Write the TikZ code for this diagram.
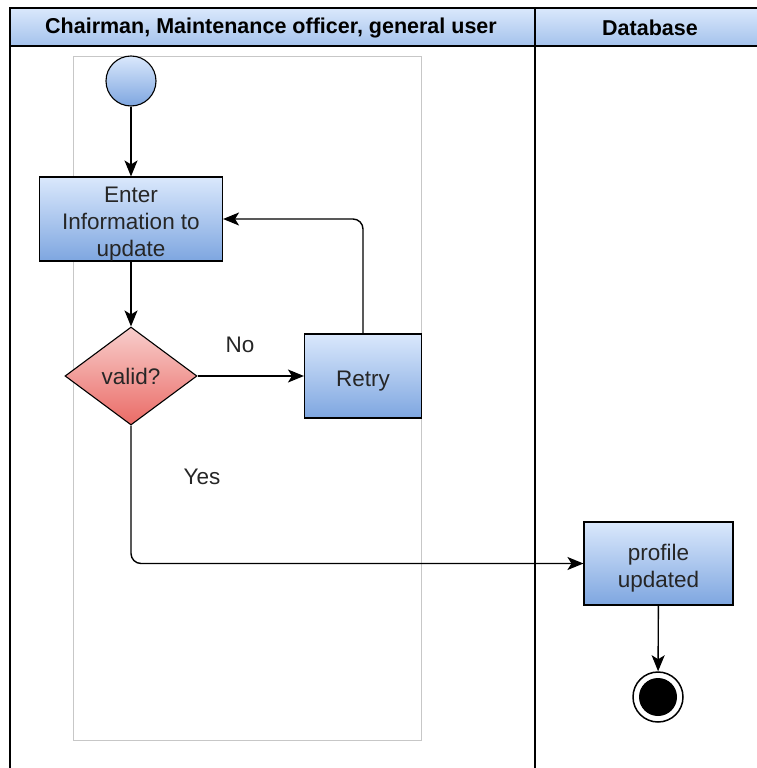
\documentclass[tikz,border=0pt]{standalone}
\usepackage{fontspec}
\setmainfont{Liberation Sans}
\usetikzlibrary{shapes.geometric,arrows.meta}
\definecolor{bluetop}{HTML}{DAE8FC}
\definecolor{bluebot}{HTML}{7EA6E0}
\definecolor{redtop}{HTML}{F8CECC}
\definecolor{redbot}{HTML}{EA6B66}
\definecolor{headtop}{HTML}{DAE8FC}
\definecolor{headbot}{HTML}{A4C2EC}
\begin{document}
\begin{tikzpicture}[x=1pt,y=-1pt,
  lane/.style={line width=1.3pt,draw=black},
  actbox/.style={rectangle,draw=black,line width=1.1pt,top color=bluetop,bottom color=bluebot,
    inner sep=0pt,align=center,text=black!85,text depth=0pt,font=\fontsize{22.5}{27}\selectfont},
  decision/.style={diamond,draw=black,line width=1.1pt,top color=redtop,bottom color=redbot,
    inner sep=0pt,minimum width=132pt,minimum height=98pt,text=black!85,font=\fontsize{22.5}{27}\selectfont},
  flow/.style={line width=1.4pt,-{Stealth[length=16pt,width=13pt,inset=4pt]},rounded corners=10pt},
  lbl/.style={font=\fontsize{22.5}{27}\selectfont,inner sep=0pt,text=black!85}]
\useasboundingbox (0,0) rectangle (756,768);
% swimlane header
\shade[top color=headtop,bottom color=headbot] (10,8) rectangle (760,46);
\draw[lane] (760,8) -- (10,8) -- (10,770);
\draw[lane] (10,46) -- (760,46);
\draw[lane] (535,8) -- (535,770);
\node[font=\bfseries\fontsize{21.5}{26}\selectfont] (h1) at (271,28) {Chairman, Maintenance officer, general user};
\node[font=\bfseries\fontsize{21.5}{26}\selectfont] (h2) at (650,28) {Database};
% light group frame
\draw[black!22,line width=0.8pt] (73,56) rectangle (421,740);
% nodes
\node[circle,draw=black,line width=1.1pt,top color=bluetop,bottom color=bluebot,minimum size=50pt,inner sep=0pt] (start) at (131,81) {};
\node[actbox,minimum width=183pt,minimum height=84pt,text height=74pt] (enter) at (131,219) {Enter\\Information to\\update};
\node[decision] (valid) at (131,376) {valid?};
\node[actbox,minimum width=117pt,minimum height=84pt,text height=20.5pt] (retry) at (363,376) {Retry};
\node[actbox,minimum width=149pt,minimum height=83pt,text height=47.5pt] (profile) at (658.5,563.5) {profile\\updated};
\node[circle,draw=black,line width=1.5pt,fill=white,minimum size=50pt,inner sep=0pt] (final) at (658,697) {};
\node[circle,fill=black,minimum size=38pt,inner sep=0pt] (finaldot) at (final.center) {};
% connectors
\draw[flow] (start) -- (enter);
\draw[flow] (enter) -- (valid);
\draw[flow] (valid.east) -- (retry.west);
\draw[flow] (retry.north) |- (enter.east);
\draw[flow] (valid.south) |- (profile.west);
\draw[flow] (profile) -- (final);
% edge labels
\node[lbl] (no) at (240,345) {No};
\node[lbl] (yes) at (202,477) {Yes};
\end{tikzpicture}
\end{document}
